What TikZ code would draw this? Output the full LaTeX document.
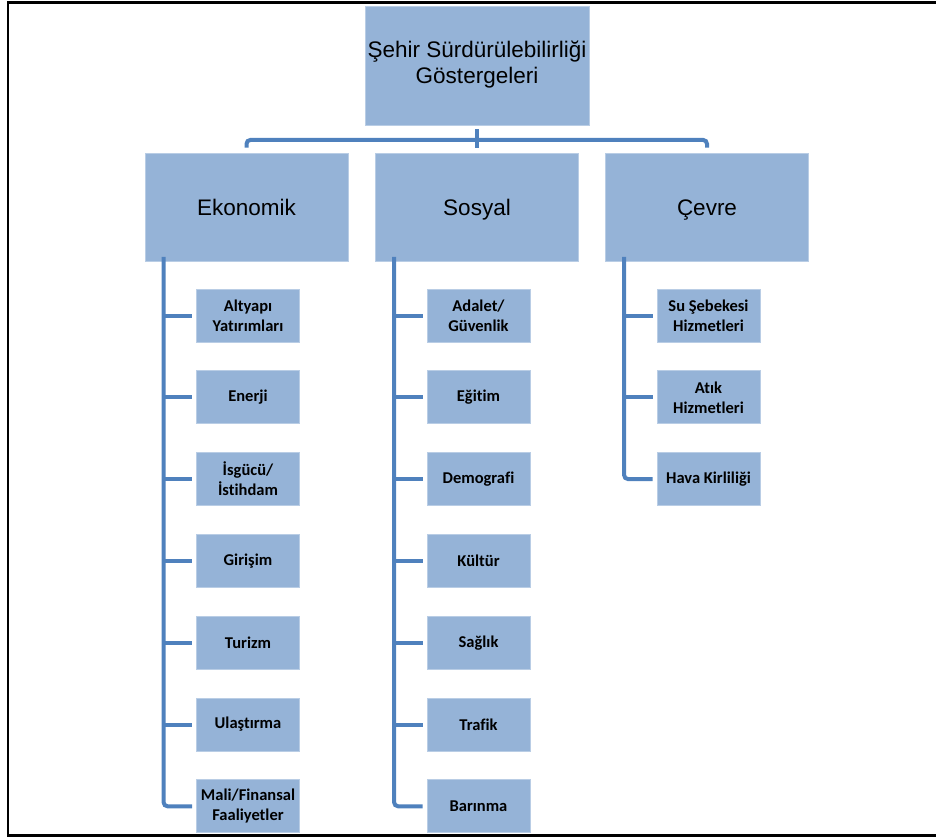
\documentclass[tikz,border=0pt]{standalone}
\usepackage{fontspec}
\setmainfont{Liberation Sans}
\newfontfamily\leaffont[Ligatures={NoCommon}]{Carlito}
\definecolor{boxfill}{HTML}{95B3D7}
\definecolor{boxedge}{HTML}{B9CDE5}
\definecolor{conncol}{HTML}{4F81BD}
\begin{document}
\begin{tikzpicture}[x=1pt,y=-1pt,
  boxbase/.style={rectangle, fill=boxfill, draw=boxedge, line width=0.8pt, inner sep=0pt, align=center},
  bigbox/.style={boxbase, minimum width=203pt, minimum height=108pt,
    text height=16pt, text depth=0pt,
    font=\fontsize{22.5}{26}\selectfont},
  topbox/.style={boxbase, minimum width=224pt, minimum height=119pt,
    font=\fontsize{22.5}{26}\selectfont},
  leaf/.style={boxbase, minimum width=103pt, minimum height=53pt,
    font=\leaffont\bfseries\fontsize{16.5}{20}\selectfont},
  conn/.style={draw=conncol, line width=4pt, rounded corners=4pt}]
\useasboundingbox (0,0) rectangle (936,837);
\draw[line width=2.3pt] (936,2.4) -- (7.7,2.4) -- (7.7,835.6) -- (936,835.6);

\node[topbox] (top) at (477,65.5) {\raisebox{-3pt}{\begin{tabular}{@{}c@{}}Şehir Sürdürülebilirliği\\Göstergeleri\end{tabular}}};
\node[bigbox] (eko) at (246.5,207) {Ekonomik};
\node[bigbox] (sos) at (477,207) {Sosyal};
\node[bigbox] (cev) at (707,207) {Çevre};

% Ekonomik leaves
\node[leaf] (e1) at (248,315.5) {Altyapı\\Yatırımları};
\node[leaf] (e2) at (248,397.3) {Enerji};
\node[leaf] (e3) at (248,479.1) {İsgücü/\\İstihdam};
\node[leaf] (e4) at (248,560.9) {Girişim};
\node[leaf] (e5) at (248,642.7) {Turizm};
\node[leaf] (e6) at (248,724.5) {Ulaştırma};
\node[leaf] (e7) at (248,806.3) {Mali/Finansal\\Faaliyetler};
% Sosyal leaves
\node[leaf] (s1) at (478.5,315.5) {Adalet/\\Güvenlik};
\node[leaf] (s2) at (478.5,397.3) {Eğitim};
\node[leaf] (s3) at (478.5,479.1) {Demografi};
\node[leaf] (s4) at (478.5,560.9) {Kültür};
\node[leaf] (s5) at (478.5,642.7) {Sağlık};
\node[leaf] (s6) at (478.5,724.5) {Trafik};
\node[leaf] (s7) at (478.5,806.3) {Barınma};
% Cevre leaves
\node[leaf] (c1) at (708.5,315.5) {Su Şebekesi\\Hizmetleri};
\node[leaf] (c2) at (708.5,397.3) {Atık\\Hizmetleri};
\node[leaf] (c3) at (708.5,479.1) {Hava Kirliliği};

% top-level connectors
\coordinate (bus) at ([yshift=-14.5pt]top.south);
\draw[conn] ([yshift=5pt]eko.north) |- (bus) -| ([yshift=5pt]cev.north);
\draw[conn, rounded corners=0pt] ([yshift=-4pt]top.south) -- ([yshift=5pt]sos.north);

% trunks
\coordinate (ekoT) at ([xshift=19pt,yshift=4.5pt]eko.south west);
\coordinate (sosT) at ([xshift=19pt,yshift=4.5pt]sos.south west);
\coordinate (cevT) at ([xshift=19pt,yshift=4.5pt]cev.south west);

\draw[conn] (ekoT) |- ([xshift=-4pt]e7.west);
\foreach \n in {e1,e2,e3,e4,e5,e6}
  \draw[conn] (ekoT |- \n.west) -- ([xshift=-4pt]\n.west);
\draw[conn] (sosT) |- ([xshift=-4pt]s7.west);
\foreach \n in {s1,s2,s3,s4,s5,s6}
  \draw[conn] (sosT |- \n.west) -- ([xshift=-4pt]\n.west);
\draw[conn] (cevT) |- ([xshift=-4pt]c3.west);
\foreach \n in {c1,c2}
  \draw[conn] (cevT |- \n.west) -- ([xshift=-4pt]\n.west);
\end{tikzpicture}
\end{document}
